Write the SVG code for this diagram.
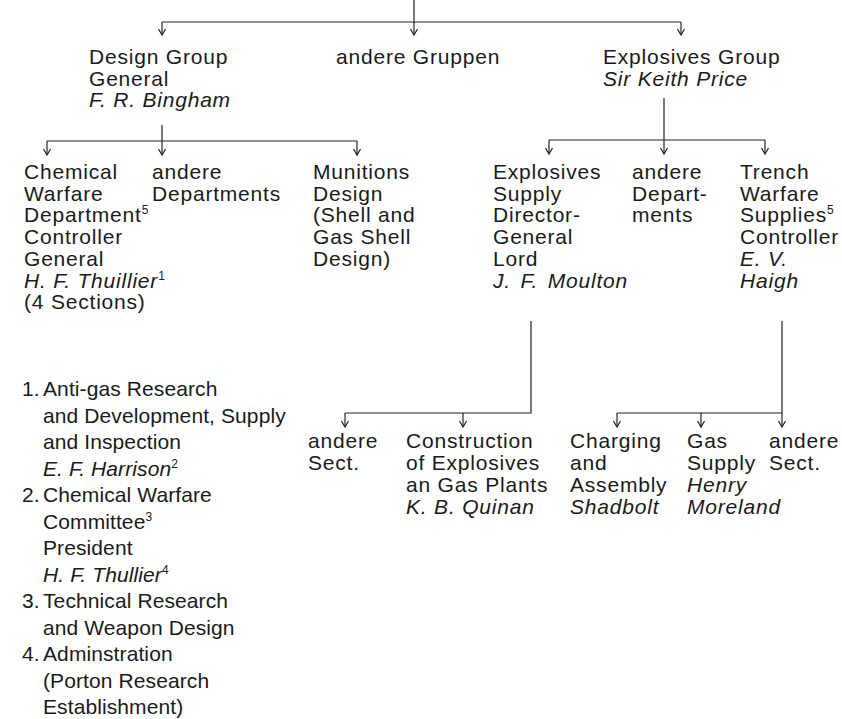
<svg xmlns="http://www.w3.org/2000/svg" width="842" height="719" viewBox="0 0 842 719">
<style>
text{font-family:"Liberation Sans",Arial,Helvetica,sans-serif;font-size:21px;letter-spacing:0.8px;fill:#1a1a1a}
.i{font-style:italic}
.sup{font-size:12px;font-style:normal}
.l{letter-spacing:0.1px}
.n{letter-spacing:0}
.c{fill:none;stroke:#222;stroke-width:1.2}
</style>
<defs>
<marker id="ah" markerUnits="userSpaceOnUse" markerWidth="12" markerHeight="12" viewBox="-8 -6 10 12" refX="0" refY="0" orient="auto">
<path d="M-6,-3.5 L0,0 L-6,3.5" fill="none" stroke="#222" stroke-width="1.2"/>
</marker>
</defs>
<rect width="842" height="719" fill="#fff"/>
<g id="connectors" class="c">
<path d="M414,0 V35" marker-end="url(#ah)"/>
<path d="M162,22 H681"/>
<path d="M162,22 V35" marker-end="url(#ah)"/>
<path d="M681,22 V35" marker-end="url(#ah)"/>
<path d="M162,125 V155" marker-end="url(#ah)"/>
<path d="M47,141 H357"/>
<path d="M47,141 V155" marker-end="url(#ah)"/>
<path d="M357,141 V155" marker-end="url(#ah)"/>
<path d="M664,98 V154" marker-end="url(#ah)"/>
<path d="M549,140 H765"/>
<path d="M549,140 V154" marker-end="url(#ah)"/>
<path d="M765,140 V154" marker-end="url(#ah)"/>
<path d="M531,321 V413 H345"/>
<path d="M345,413 V427" marker-end="url(#ah)"/>
<path d="M463,413 V427" marker-end="url(#ah)"/>
<path d="M782,321 V427" marker-end="url(#ah)"/>
<path d="M617,413 H782"/>
<path d="M617,413 V427" marker-end="url(#ah)"/>
<path d="M701,413 V427" marker-end="url(#ah)"/>
</g>
<g id="design-group">
<text x="89" y="64">Design Group</text>
<text x="89" y="85.5">General</text>
<text x="89" y="107" class="i">F. R. Bingham</text>
</g>
<g id="andere-gruppen">
<text x="336" y="64">andere Gruppen</text>
</g>
<g id="explosives-group">
<text x="603" y="64">Explosives Group</text>
<text x="603" y="85.5" class="i">Sir Keith Price</text>
</g>
<g id="chemical-warfare-department">
<text x="24" y="179">Chemical</text>
<text x="24" y="200.7">Warfare</text>
<text x="24" y="222.4">Department<tspan class="sup" dy="-8">5</tspan></text>
<text x="24" y="244.1">Controller</text>
<text x="24" y="265.8">General</text>
<text x="24" y="287.5" class="i">H. F. Thuillier<tspan class="sup" dy="-8">1</tspan></text>
<text x="24" y="309.2">(4 Sections)</text>
</g>
<g id="andere-departments-1">
<text x="152" y="179">andere</text>
<text x="152" y="200.7">Departments</text>
</g>
<g id="munitions-design">
<text x="313" y="179">Munitions</text>
<text x="313" y="200.7">Design</text>
<text x="313" y="222.4">(Shell and</text>
<text x="313" y="244.1">Gas Shell</text>
<text x="313" y="265.8">Design)</text>
</g>
<g id="explosives-supply">
<text x="493" y="179">Explosives</text>
<text x="493" y="200.7">Supply</text>
<text x="493" y="222.4">Director-</text>
<text x="493" y="244.1">General</text>
<text x="493" y="265.8">Lord</text>
<text x="493" y="287.5" class="i" style="word-spacing:3px">J. F. Moulton</text>
</g>
<g id="andere-departments-2">
<text x="632" y="179">andere</text>
<text x="632" y="200.7">Depart-</text>
<text x="632" y="222.4">ments</text>
</g>
<g id="trench-warfare-supplies">
<text x="740" y="179">Trench</text>
<text x="740" y="200.7">Warfare</text>
<text x="740" y="222.4">Supplies<tspan class="sup" dy="-8">5</tspan></text>
<text x="740" y="244.1">Controller</text>
<text x="740" y="265.8" class="i">E. V.</text>
<text x="740" y="287.5" class="i">Haigh</text>
</g>
<g id="sections-list" class="l">
<text x="22" y="396" class="n">1.</text>
<text x="43" y="396" class="l">Anti-gas Research</text>
<text x="43" y="422.5" class="l">and Development, Supply</text>
<text x="43" y="449" class="l">and Inspection</text>
<text x="43" y="475.5" class="i l">E. F. Harrison<tspan class="sup" dy="-8">2</tspan></text>
<text x="22" y="502" class="n">2.</text>
<text x="43" y="502" class="l">Chemical Warfare</text>
<text x="43" y="528.5" class="l">Committee<tspan class="sup" dy="-8">3</tspan></text>
<text x="43" y="555" class="l">President</text>
<text x="43" y="581.5" class="i l">H. F. Thullier<tspan class="sup" dy="-8">4</tspan></text>
<text x="22" y="608" class="n">3.</text>
<text x="43" y="608" class="l">Technical Research</text>
<text x="43" y="634.5" class="l">and Weapon Design</text>
<text x="22" y="661" class="n">4.</text>
<text x="43" y="661" class="l">Adminstration</text>
<text x="43" y="687.5" class="l">(Porton Research</text>
<text x="43" y="714" class="l">Establishment)</text>
</g>
<g id="andere-sect-1">
<text x="308" y="448">andere</text>
<text x="308" y="470">Sect.</text>
</g>
<g id="construction">
<text x="406" y="448">Construction</text>
<text x="406" y="470">of Explosives</text>
<text x="406" y="492">an Gas Plants</text>
<text x="406" y="514" class="i">K. B. Quinan</text>
</g>
<g id="charging-assembly">
<text x="570" y="448">Charging</text>
<text x="570" y="470">and</text>
<text x="570" y="492">Assembly</text>
<text x="570" y="514" class="i">Shadbolt</text>
</g>
<g id="gas-supply">
<text x="687" y="448">Gas</text>
<text x="687" y="470">Supply</text>
<text x="687" y="492" class="i">Henry</text>
<text x="687" y="514" class="i">Moreland</text>
</g>
<g id="andere-sect-2">
<text x="769" y="448">andere</text>
<text x="769" y="470">Sect.</text>
</g>
</svg>
